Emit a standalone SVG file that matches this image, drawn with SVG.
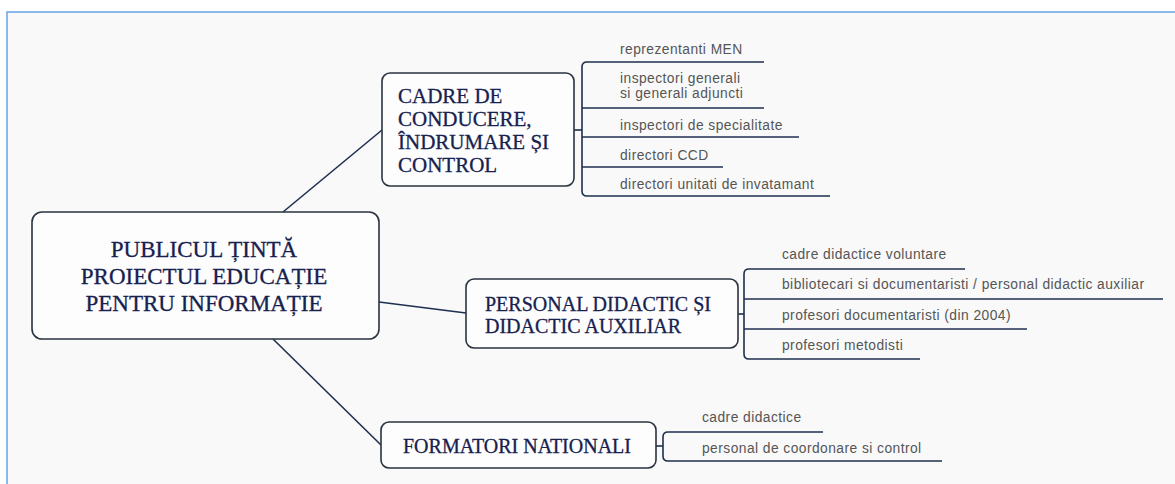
<svg xmlns="http://www.w3.org/2000/svg" width="1175" height="484" viewBox="0 0 1175 484">
<style>
.box{fill:#fdfdfd;stroke:#2a3340;stroke-width:1.6}
.title{font-family:"Liberation Serif","Times New Roman",serif;fill:#16214f;stroke:#16214f;stroke-width:0.3}
.item{font-family:"Liberation Sans",Arial,sans-serif;font-size:13.8px;letter-spacing:0.45px;fill:#555555}
.conn{fill:none;stroke:#1f2f4f;stroke-width:1.6}
</style>
<rect x="0" y="0" width="1175" height="484" fill="#ffffff"/>
<rect x="7" y="12" width="1180" height="490" fill="#f9f9f9" stroke="#6fa8e6" stroke-width="1.6"/>
<g id="connectors">
<path class="conn" d="M283,212 L382,130"/>
<path class="conn" d="M379,302 L466,313"/>
<path class="conn" d="M273,339 L381,445"/>
<path class="conn" d="M574,130 H582"/>
<path class="conn" d="M764,62 H587 Q582,62 582,67 V191 Q582,196 587,196 H830"/>
<path class="conn" d="M582,108 H764"/>
<path class="conn" d="M582,137 H799"/>
<path class="conn" d="M582,167 H723"/>
<path class="conn" d="M738,314 H744"/>
<path class="conn" d="M965,269 H749 Q744,269 744,274 V354 Q744,359 749,359 H920"/>
<path class="conn" d="M744,299 H1163"/>
<path class="conn" d="M744,329 H1027"/>
<path class="conn" d="M656,446 H663"/>
<path class="conn" d="M823,432 H668 Q663,432 663,437 V456 Q663,461 668,461 H942"/>
</g>
<g id="root">
<rect class="box" x="32" y="212" width="347" height="127" rx="10"/>
<text class="title" font-size="23" text-anchor="middle"><tspan x="204" y="257">PUBLICUL ȚINTĂ</tspan><tspan x="204" y="284">PROIECTUL EDUCAȚIE</tspan><tspan x="204" y="311">PENTRU INFORMAȚIE</tspan></text>
</g>
<g id="cadre">
<rect class="box" x="382" y="73" width="192" height="113" rx="8"/>
<text class="title" font-size="21"><tspan x="398" y="103">CADRE DE</tspan><tspan x="398" y="126">CONDUCERE,</tspan><tspan x="398" y="149">ÎNDRUMARE ȘI</tspan><tspan x="398" y="172">CONTROL</tspan></text>
</g>
<g id="cadre-items">
<text class="item" x="620" y="54">reprezentanti MEN</text>
<text class="item"><tspan x="620" y="83">inspectori generali</tspan><tspan x="620" y="98">si generali adjuncti</tspan></text>
<text class="item" x="620" y="130">inspectori de specialitate</text>
<text class="item" x="620" y="160">directori CCD</text>
<text class="item" x="620" y="189">directori unitati de invatamant</text>
</g>
<g id="personal">
<rect class="box" x="466" y="279" width="272" height="69" rx="8"/>
<text class="title" font-size="20"><tspan x="485" y="311">PERSONAL DIDACTIC ȘI</tspan><tspan x="485" y="333">DIDACTIC AUXILIAR</tspan></text>
</g>
<g id="personal-items">
<text class="item" x="782" y="259">cadre didactice voluntare</text>
<text class="item" x="782" y="289">bibliotecari si documentaristi / personal didactic auxiliar</text>
<text class="item" x="782" y="320">profesori documentaristi (din 2004)</text>
<text class="item" x="782" y="350">profesori metodisti</text>
</g>
<g id="formatori">
<rect class="box" x="381" y="422" width="275" height="46" rx="8"/>
<text class="title" font-size="20" x="403" y="453">FORMATORI NATIONALI</text>
</g>
<g id="formatori-items">
<text class="item" x="702" y="422">cadre didactice</text>
<text class="item" x="702" y="453">personal de coordonare si control</text>
</g>
</svg>
